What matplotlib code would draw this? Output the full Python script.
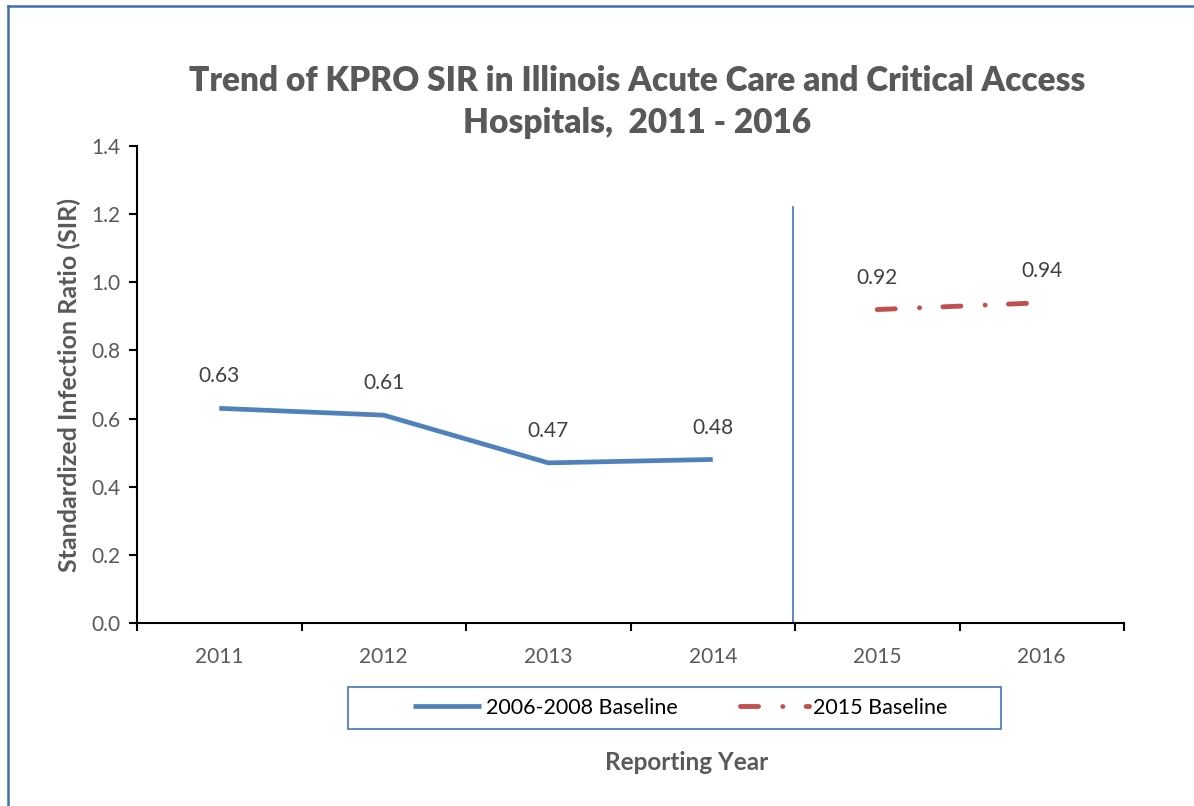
import matplotlib
matplotlib.use("Agg")
import matplotlib.pyplot as plt
from matplotlib.lines import Line2D
from matplotlib.patches import Rectangle
import numpy as np

# Data
years = ["2011", "2012", "2013", "2014", "2015", "2016"]
old_baseline_years = ["2011", "2012", "2013", "2014"]
old_baseline_sir = [0.63, 0.61, 0.47, 0.48]
new_baseline_years = ["2015", "2016"]
new_baseline_sir = [0.92, 0.94]
series_names = ["2006-2008 Baseline", "2015 Baseline"]
separator_top = 1.22

plt.rcParams["font.family"] = ["Lato", "DejaVu Sans"]
grey = "#595959"
blue = "#4f81bd"
red = "#c0504d"

fig = plt.figure(figsize=(11.94, 8.06), dpi=100)
ax = fig.add_axes([137 / 1194, 1 - 623 / 806, 987 / 1194, 477 / 806])

pos = {y: i for i, y in enumerate(years)}
x_old = [pos[y] for y in old_baseline_years]
x_new = [pos[y] for y in new_baseline_years]

ax.plot(x_old, old_baseline_sir, color=blue, lw=3.4, solid_capstyle="butt",
        label=series_names[0])
ax.plot(x_new, new_baseline_sir, color=red, lw=3.5,
        linestyle=(0, (3.7, 5.0, 0.01, 4.8)), dash_capstyle="round",
        label=series_names[1])

# separator between the two baselines
sep_x = (pos["2014"] + pos["2015"]) / 2 - 0.01
ax.plot([sep_x, sep_x], [0, separator_top], color=blue, lw=1.3)

for x, v in zip(x_old + x_new, old_baseline_sir + new_baseline_sir):
    ax.annotate(f"{v:.2f}", (x, v), xytext=(0, 23), textcoords="offset points",
                ha="center", va="center", fontsize=15, color="#404040")

ax.set_xlim(-0.5, len(years) - 0.5)
ax.set_ylim(0, 1.4)
ax.set_xticks(np.arange(-0.5, len(years), 1.0))
ax.set_xticklabels([])
ax.set_xticks(np.arange(len(years)), minor=True)
ax.set_xticklabels(years, minor=True)
ax.tick_params(axis="x", which="major", length=6, width=1.5, direction="out")
ax.tick_params(axis="x", which="minor", length=0, pad=17, labelsize=15,
               labelcolor=grey)
ax.set_yticks(np.arange(0, 1.41, 0.2))
ax.set_yticklabels([f"{t:.1f}" for t in np.arange(0, 1.41, 0.2)])
ax.tick_params(axis="y", length=6, width=1.5, labelsize=15, labelcolor=grey, pad=6)

for s in ["top", "right"]:
    ax.spines[s].set_visible(False)
for s in ["left", "bottom"]:
    ax.spines[s].set_linewidth(1.5)

ax.set_ylabel("Standardized Infection Ratio (SIR)", fontsize=18, fontweight="bold",
              color=grey, labelpad=7)

fig.text(637 / 1194, 1 - 102 / 806,
         "Trend of KPRO SIR in Illinois Acute Care and Critical Access\nHospitals,  2011 - 2016",
         ha="center", va="center", fontsize=24, fontweight="heavy", color=grey,
         linespacing=1.4)
fig.text(687 / 1194, 1 - 763 / 806, "Reporting Year", ha="center", va="center",
         fontsize=17.5, fontweight="bold", color=grey)

# legend
fig.add_artist(Rectangle((348 / 1194, 1 - 729 / 806), 653 / 1194, 42 / 806,
                         transform=fig.transFigure, fill=False, edgecolor=blue,
                         lw=1.3))
handles, labels = ax.get_legend_handles_labels()
fig.legend(handles, labels, loc="center", bbox_to_anchor=(680 / 1194, 1 - 708 / 806),
           ncol=2, frameon=False, fontsize=15.5, handlelength=3.2,
           handletextpad=0.2, columnspacing=2.9)

# figure border (left and top)
fig.add_artist(Line2D([8 / 1194, 8 / 1194], [0, 1 - 6 / 806], color="#3d6fb0",
                      lw=1.8, transform=fig.transFigure))
fig.add_artist(Line2D([8 / 1194, 1], [1 - 6 / 806, 1 - 6 / 806], color="#3d6fb0",
                      lw=1.8, transform=fig.transFigure))

fig.savefig("out.png", dpi=100)
